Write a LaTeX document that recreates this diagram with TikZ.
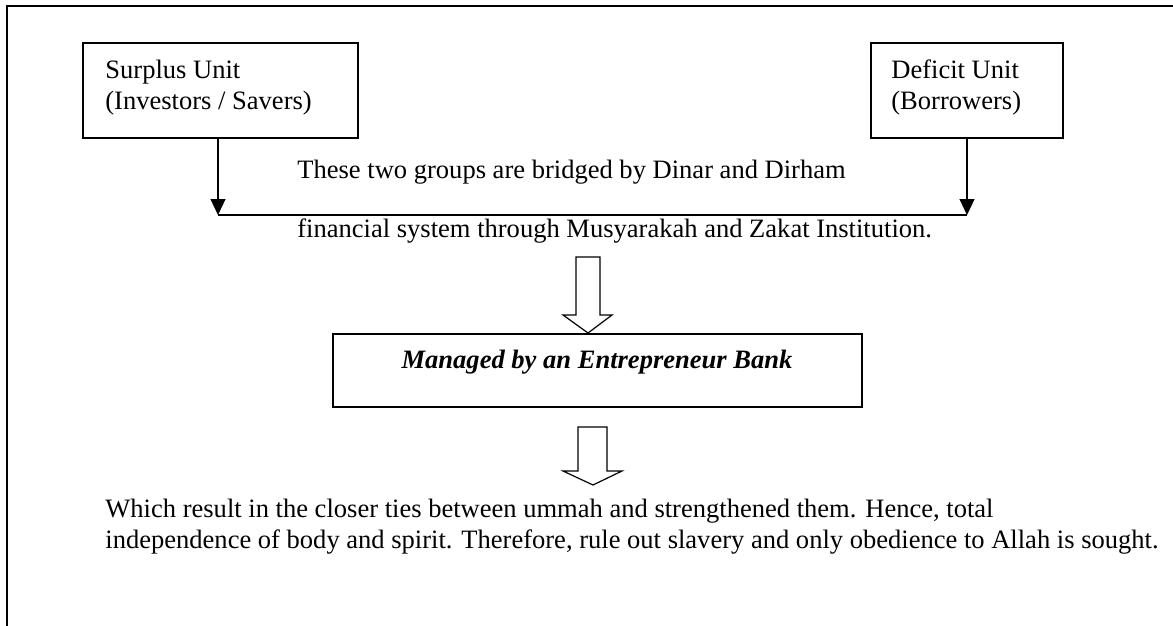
\documentclass[tikz,border=0pt]{standalone}
\usepackage{fontspec}
\setmainfont{Liberation Serif}
\usetikzlibrary{arrows.meta}
\tikzset{
  unitbox/.style={draw, line width=0.8pt, inner sep=0pt},
  txt/.style={anchor=base west, inner sep=0pt, font=\fontsize{13.27}{16}\selectfont},
  flow/.style={line width=0.6pt, -{Triangle[width=7.5pt,length=8pt]}},
  hollow/.style={draw, line width=0.6pt, fill=white},
  frame/.style={line width=1.1pt}
}
\begin{document}
\begin{tikzpicture}[x=0.5pt,y=-0.5pt]
\useasboundingbox (0,0) rectangle (1173,626);
% outer frame (top and left only)
\draw[frame] (1173,6) -- (7,6) -- (7,626);

% boxes
\node[unitbox, minimum width=275*0.5pt, minimum height=95*0.5pt] (surplus) at (220.5,90.5) {};
\node[unitbox, minimum width=192*0.5pt, minimum height=95*0.5pt] (deficit) at (967,90.5) {};
\node[unitbox, minimum width=529*0.5pt, minimum height=73*0.5pt] (bank) at (597.5,370.5) {};

% texts in boxes
\node[txt] (s1) at (105,79) {Surplus Unit};
\node[txt] (s2) at (105,110) {(Investors / Savers)};
\node[txt] (d1) at (891,79) {Deficit Unit};
\node[txt] (d2) at (891,110) {(Borrowers)};
\node[anchor=base, inner sep=0pt, font=\fontsize{13.27}{16}\selectfont\bfseries\itshape] (b1) at (597,368) {Managed by an Entrepreneur Bank};

% bridge texts
\node[txt] (t1) at (297,178) {These two groups are bridged by Dinar and Dirham};
\node[txt] (t2) at (297,237) {financial system through Musyarakah and Zakat Institution.};

% bottom texts
\node[txt] (r1) at (105,517) {Which result in the closer ties between ummah and strengthened them. Hence, total};
\node[txt] (r2) at (105,548) {independence of body and spirit. Therefore, rule out slavery and only obedience to Allah is sought.};

% connectors
\coordinate (j1) at (218,215);
\coordinate (j2) at (967,215);
\draw[line width=0.8pt] (j1) -- (j2);
\draw[flow] (surplus.south -| j1) -- (j1);
\draw[flow] (deficit.south) -- (j2);

% hollow arrows
\draw[hollow] (576,257) -- (600,257) -- (600,315) -- (612,315) -- (588,333) -- (563,315) -- (576,315) -- cycle;
\draw[hollow] (578,427) -- (607,427) -- (607,471) -- (622,471) -- (593,485) -- (563,471) -- (578,471) -- cycle;
\end{tikzpicture}
\end{document}
